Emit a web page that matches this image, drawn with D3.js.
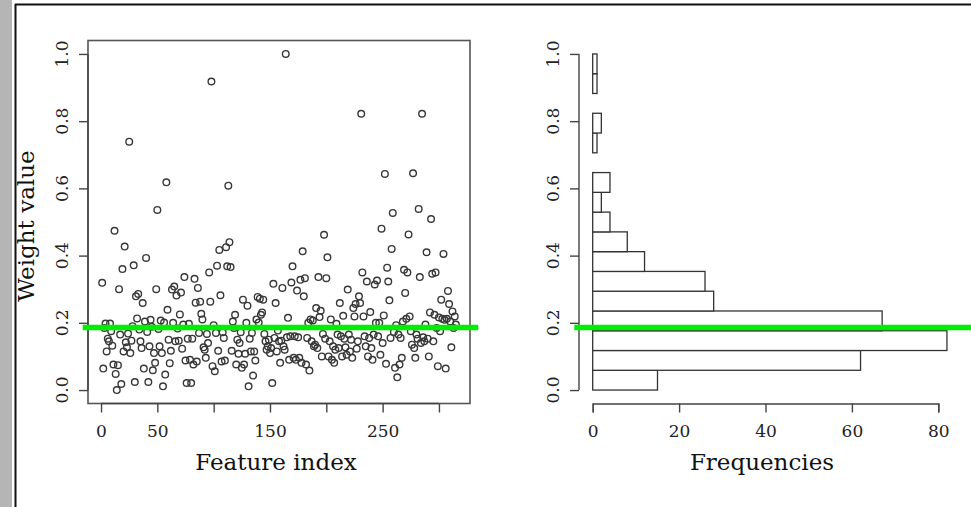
<!DOCTYPE html>
<html>
<head>
<meta charset="utf-8">
<script src="https://cdn.jsdelivr.net/npm/d3@7"></script>
<style>
  html, body { margin: 0; padding: 0; background: #fff; }
  svg { display: block; }
  text { font-family: "DejaVu Serif", "Liberation Serif", serif; }
</style>
</head>
<body>
<svg id="chart" width="971" height="507"></svg>
<script>
// ---- data ----
const weights = [
  0.319,0.064,0.185,0.198,0.115,0.153,0.145,0.198,0.175,0.132,
  0.076,0.474,0.048,0.0,0.074,0.30,0.165,0.018,0.36,0.115,
  0.427,0.142,0.127,0.168,0.739,0.11,0.147,0.19,0.371,0.024,
  0.279,0.213,0.286,0.18,0.145,0.125,0.259,0.064,0.204,0.393,
  0.173,0.024,0.13,0.209,0.188,0.059,0.11,0.081,0.30,0.536,
  0.182,0.13,0.207,0.11,0.011,0.201,0.046,0.618,0.239,0.15,
  0.08,0.117,0.299,0.2,0.308,0.145,0.281,0.183,0.147,0.225,
  0.29,0.123,0.195,0.336,0.088,0.021,0.153,
  0.197,0.09,0.021,0.153,0.076,0.331,0.26,0.085,0.304,0.17,
  0.263,0.227,0.21,0.127,0.12,0.096,0.167,0.14,0.35,0.263,
  0.918,0.071,0.193,0.056,0.17,0.37,0.117,0.417,0.282,0.085,
  0.172,0.155,0.088,0.425,0.368,0.608,0.44,0.366,0.117,0.204,
  0.185,0.224,0.076,0.15,0.108,0.14,0.172,0.066,0.269,0.076,
  0.108,0.2,0.251,0.011,0.153,0.115,0.17,0.043,0.115,0.088,
  0.21,0.277,0.201,0.272,0.224,0.231,0.269,0.167,0.145,0.12,
  0.13,0.15,0.11,0.125,0.021,0.316,0.155,0.259,0.115,0.177,
  0.145,0.081,0.147,0.304,
  0.13,0.12,1.0,0.157,0.215,0.09,0.16,0.32,0.368,0.096,
  0.16,0.09,0.296,0.157,0.096,0.328,0.081,0.413,0.279,0.333,
  0.076,0.155,0.2,0.058,0.21,0.145,0.207,0.13,0.135,0.244,
  0.125,0.336,0.217,0.236,0.1,0.167,0.462,0.153,0.333,0.395,
  0.1,0.145,0.21,0.09,0.13,0.081,0.12,0.197,0.165,0.125,
  0.259,0.16,0.1,0.221,0.153,0.127,0.105,0.299,0.165,0.115,
  0.15,0.096,0.244,0.219,0.256,0.123,0.145,0.279,0.259,0.822,
  0.35,0.219,0.16,0.13,0.323,0.1,0.155,0.232,0.125,0.09,
  0.165,0.314,0.2,0.326,
  0.16,0.2,0.105,0.48,0.14,0.222,0.643,0.078,0.364,0.323,
  0.267,0.155,0.42,0.527,0.173,0.066,0.193,0.038,0.165,0.076,
  0.155,0.096,0.204,0.358,0.289,0.212,0.35,0.463,0.219,0.175,
  0.135,0.645,0.125,0.096,0.165,0.153,0.539,0.336,0.14,0.822,
  0.157,0.145,0.195,0.41,0.153,0.1,0.231,0.509,0.346,0.145,
  0.224,0.35,0.185,0.071,0.216,0.175,0.269,0.212,0.405,0.209,
  0.064,0.212,0.295,0.256,0.204,0.127,0.234,0.185,0.219,0.195
];
// histogram frequencies, bottom bin first (17 equal bins from 0 to 1)
const freqCounts = [15,62,82,67,28,26,12,8,4,2,4,0,1,2,0,1,1];
const threshold = 0.186;
const weightTicks = [0, 0.2, 0.4, 0.6, 0.8, 1.0];
const weightTickLabels = ["0.0", "0.2", "0.4", "0.6", "0.8", "1.0"];
const indexTicks = [0, 50, 100, 150, 200, 250, 300];
const indexTickLabels = ["0", "50", "", "150", "", "250", ""];
const freqTicks = [0, 20, 40, 60, 80];
const freqTickLabels = ["0", "20", "40", "60", "80"];
const xTitleLeft = "Feature index";
const xTitleRight = "Frequencies";
const yTitle = "Weight value";

// ---- drawing ----
const svg = d3.select("#chart");
const axisColor = "#444";
const textColor = "#222";

// outer frame
svg.append("rect").attr("x", 0).attr("y", 0).attr("width", 12).attr("height", 507).attr("fill", "#b5b5b5");
svg.append("line").attr("x1", 15.5).attr("x2", 15.5).attr("y1", 4).attr("y2", 507)
  .attr("stroke", "#111").attr("stroke-width", 2);
svg.append("line").attr("x1", 15).attr("x2", 971).attr("y1", 4.5).attr("y2", 4.5)
  .attr("stroke", "#111").attr("stroke-width", 2);

const n = weights.length;
const pad = 0.04 * (n - 1);
const x = d3.scaleLinear().domain([1 - pad, n + pad]).range([88, 470]);
const y = d3.scaleLinear().domain([-0.04, 1.04]).range([403.5, 40.5]);

// scatter points
svg.append("g").selectAll("circle").data(weights).join("circle")
  .attr("cx", (d, i) => x(i + 1))
  .attr("cy", d => y(d))
  .attr("r", 3.3)
  .attr("fill", "none")
  .attr("stroke", "#383838")
  .attr("stroke-width", 1.4);

// box
svg.append("rect").attr("x", 88).attr("y", 40.5).attr("width", 382).attr("height", 363)
  .attr("fill", "none").attr("stroke", "#555").attr("stroke-width", 1.6);

function styleAxis(g) {
  g.selectAll("path").attr("stroke", axisColor).attr("stroke-width", 1.4);
  g.selectAll("line").attr("stroke", axisColor).attr("stroke-width", 1.4);
  g.selectAll("text").attr("fill", textColor).attr("font-size", 17)
    .attr("font-family", '"DejaVu Serif", serif');
}

// left x axis
const gxl = svg.append("g").attr("transform", "translate(0,403.5)")
  .call(d3.axisBottom(x).tickValues(indexTicks).tickSize(9).tickPadding(12)
    .tickFormat((d, i) => indexTickLabels[i]));
gxl.select(".domain").attr("d", `M${x(0)},0H${x(300)}`);
styleAxis(gxl);

// left y axis
const gyl = svg.append("g").attr("transform", "translate(88,0)")
  .call(d3.axisLeft(y).tickValues(weightTicks).tickSize(9).tickFormat(""));
gyl.select(".domain").attr("d", `M0,${y(0)}V${y(1)}`);
styleAxis(gyl);
svg.append("g").selectAll("text").data(weightTicks).join("text")
  .attr("transform", d => `translate(68,${y(d)}) rotate(-90)`)
  .attr("text-anchor", "middle").attr("font-size", 17).attr("fill", textColor)
  .text((d, i) => weightTickLabels[i]);

// right histogram
const xh = d3.scaleLinear().domain([0, 80]).range([592.7, 938.3]);
const binW = 1 / freqCounts.length;
svg.append("g").selectAll("rect").data(freqCounts).join("rect")
  .attr("x", xh(0))
  .attr("y", (d, i) => y((i + 1) * binW))
  .attr("width", d => xh(d) - xh(0))
  .attr("height", (d, i) => y(i * binW) - y((i + 1) * binW))
  .attr("fill", "#fff")
  .attr("stroke", "#333")
  .attr("stroke-width", 1.3);

const gxr = svg.append("g").attr("transform", "translate(0,403.5)")
  .call(d3.axisBottom(xh).tickValues(freqTicks).tickSize(9).tickPadding(12)
    .tickFormat((d, i) => freqTickLabels[i]));
styleAxis(gxr);

const gyr = svg.append("g").attr("transform", "translate(579,0)")
  .call(d3.axisLeft(y).tickValues(weightTicks).tickSize(9).tickFormat(""));
gyr.select(".domain").attr("d", `M0,${y(0)}V${y(1)}`);
styleAxis(gyr);
svg.append("g").selectAll("text").data(weightTicks).join("text")
  .attr("transform", d => `translate(559,${y(d)}) rotate(-90)`)
  .attr("text-anchor", "middle").attr("font-size", 17).attr("fill", textColor)
  .text((d, i) => weightTickLabels[i]);

// titles
svg.append("text").attr("x", 276).attr("y", 470).attr("text-anchor", "middle")
  .attr("font-size", 23).attr("fill", "#111").text(xTitleLeft);
svg.append("text").attr("x", 762).attr("y", 470).attr("text-anchor", "middle")
  .attr("font-size", 23).attr("fill", "#111").text(xTitleRight);
svg.append("text").attr("transform", "translate(34,226) rotate(-90)").attr("text-anchor", "middle")
  .attr("font-size", 23).attr("fill", "#111").text(yTitle);

// threshold lines (green)
svg.append("line").attr("x1", 82.7).attr("x2", 478.3).attr("y1", y(threshold)).attr("y2", y(threshold))
  .attr("stroke", "#00ee00").attr("stroke-width", 5.5);
svg.append("line").attr("x1", 574.3).attr("x2", 971).attr("y1", y(threshold)).attr("y2", y(threshold))
  .attr("stroke", "#00ee00").attr("stroke-width", 5.5);
</script>
</body>
</html>
